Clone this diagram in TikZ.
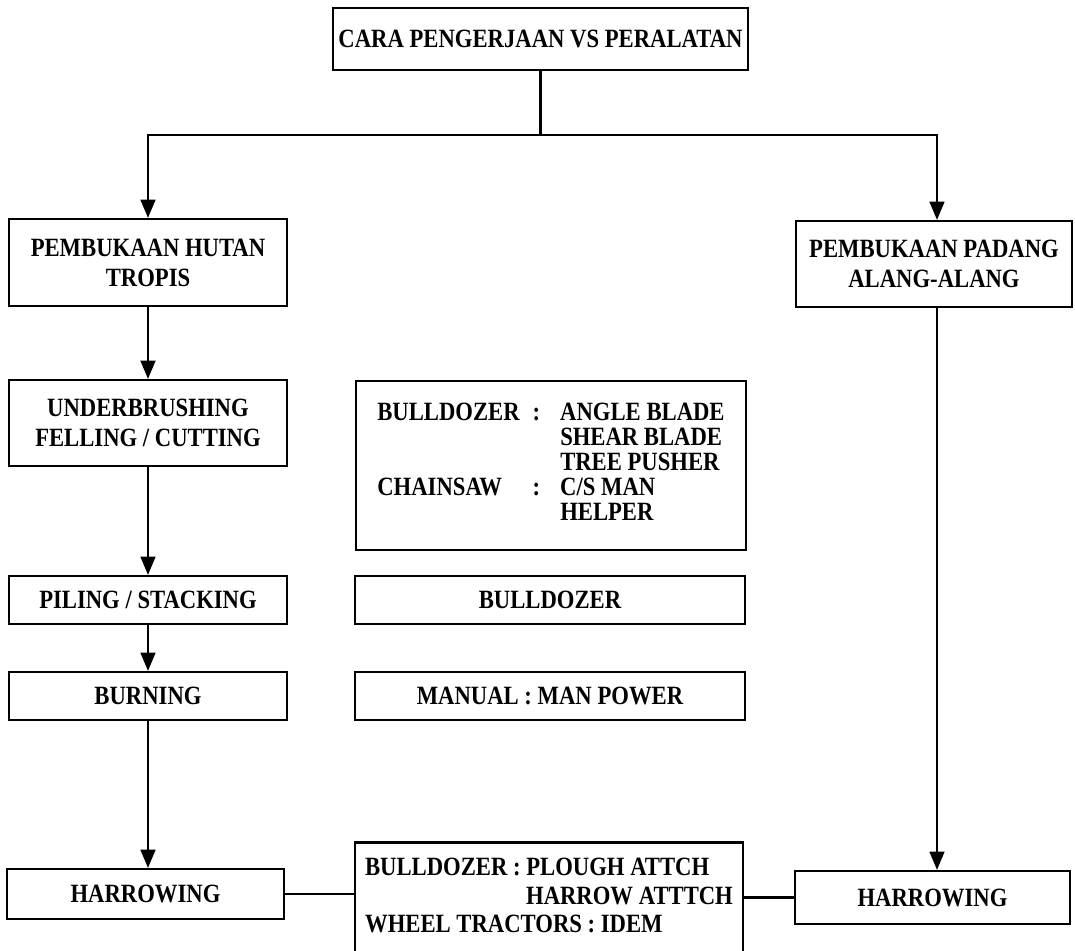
\documentclass[tikz,border=0pt]{standalone}
\usepackage{fontspec}
\setmainfont{Liberation Serif}[FakeStretch=0.86]
\usepackage{tikz}
\usetikzlibrary{arrows,positioning}
\tikzstyle{box} = [rectangle, draw, line width=1.4pt, text centered, inner sep=2pt, font=\fontsize{15}{17}\selectfont\bfseries]
\tikzstyle{step1} = [box, minimum width=5.56cm, minimum height=1.74cm, align=center]
\tikzstyle{step2} = [box, minimum width=5.56cm, minimum height=0.96cm]
\tikzstyle{tool} = [box, minimum width=7.8cm, minimum height=0.96cm]
\tikzstyle{line} = [draw, line width=1.4pt]
\renewcommand{\arraystretch}{0.84}

\begin{document}
\begin{tikzpicture}[node distance=2.5cm, auto, >=triangle 45]
	\useasboundingbox (0,0) rectangle (21.5,-19.02);
	% methods
	\node[box, minimum width=8.3cm, minimum height=1.24cm] (cara) at (10.81,-0.78) {CARA PENGERJAAN VS PERALATAN};
	\node[step1] (hutan) at (2.96,-5.25) {PEMBUKAAN HUTAN\\TROPIS};
	\node[step1, minimum width=5.52cm, minimum height=1.72cm] (padang) at (18.68,-5.28) {PEMBUKAAN PADANG\\ALANG-ALANG};
	\node[step1, minimum height=1.72cm] (under) [below of=hutan, node distance=3.21cm] {UNDERBRUSHING\\FELLING / CUTTING};
	\node[step2] (piling) [below of=under, node distance=3.54cm] {PILING / STACKING};
	\node[step2] (burning) [below of=piling, node distance=1.92cm] {BURNING};
	\node[step2, minimum width=5.54cm, minimum height=1.0cm] (harrowL) [below of=burning, node distance=3.96cm, xshift=-0.05cm] {HARROWING};
	\node[step2, minimum width=5.5cm, minimum height=1.06cm] (harrowR) at (18.65,-17.95) {HARROWING};
	% equipment
	\node[tool, minimum height=3.38cm] (alat1) at (11.02,-9.31) {%
		\begin{tabular}{@{}l@{\hspace{0.26cm}}l@{\hspace{0.4cm}}l@{}}
		BULLDOZER & : & ANGLE BLADE\\
		 & & SHEAR BLADE\\
		 & & TREE PUSHER\\
		CHAINSAW & : & C/S MAN\\
		 & & HELPER
		\end{tabular}};
	\node[tool] (alat2) [right of=piling, node distance=8.04cm] {BULLDOZER};
	\node[tool] (alat3) [right of=burning, node distance=8.04cm] {MANUAL : MAN POWER};
	\node[tool, minimum width=7.76cm, minimum height=1cm] (alat4) at (10.98,-18.03) {%
		\renewcommand{\arraystretch}{0.94}%
		\begin{tabular}{@{}l@{}}
		\rule{0pt}{0.6cm}BULLDOZER : PLOUGH ATTCH\\
		\hspace*{3.22cm}HARROW ATTTCH\\
		WHEEL TRACTORS : IDEM\rule[-0.5cm]{0pt}{0pt}
		\end{tabular}};
	% connectors
	\draw[line] (cara.south) -- ++(0,-1.28) coordinate (split);
	\draw[line,->] (split) -| (hutan.north);
	\draw[line,->] (split) -| ([xshift=0.06cm]padang.north);
	\draw[line,->] (hutan) -- (under);
	\draw[line,->] (under) -- (piling);
	\draw[line,->] (piling) -- (burning);
	\draw[line,->] (burning.south) -- (harrowL.north -| burning.south);
	\draw[line,->] ([xshift=0.06cm]padang.south) -- ([xshift=0.06cm]padang.south |- harrowR.north);
	\draw[line] (harrowL) -- (harrowL -| alat4.west);
	\draw[line] (harrowR) -- (harrowR -| alat4.east);
\end{tikzpicture}
\end{document}
